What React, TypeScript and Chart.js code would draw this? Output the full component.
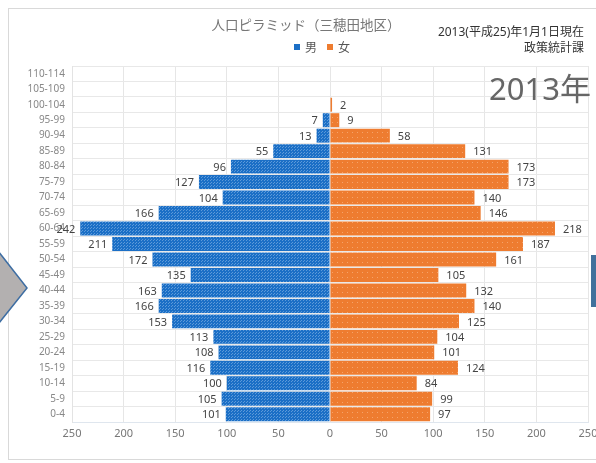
import React, { useEffect, useRef } from "react";
import { Chart, registerables } from "chart.js";

Chart.register(...registerables);

const categories = ["110-114","105-109","100-104","95-99","90-94","85-89","80-84","75-79","70-74","65-69","60-64","55-59","50-54","45-49","40-44","35-39","30-34","25-29","20-24","15-19","10-14","5-9","0-4"];
const maleValues = [0,0,0,7,13,55,96,127,104,166,242,211,172,135,163,166,153,113,108,116,100,105,101];
const femaleValues = [0,0,2,9,58,131,173,173,140,146,218,187,161,105,132,140,125,104,101,124,84,99,97];
const seriesNames = ["男", "女"];
const titleText = "人口ピラミッド（三穂田地区）";
const noteLine1 = "2013(平成25)年1月1日現在";
const noteLine2 = "政策統計課";
const yearText = "2013年";

const FONT = '"Noto Sans", "Noto Sans CJK JP", sans-serif';

function makePattern(base: string, dot: string, size: number, dots: number[][]) {
  const c = document.createElement("canvas");
  c.width = size;
  c.height = size;
  const g = c.getContext("2d")!;
  g.fillStyle = base;
  g.fillRect(0, 0, size, size);
  g.fillStyle = dot;
  dots.forEach(([x, y]) => g.fillRect(x, y, 1, 1));
  const ctx = document.createElement("canvas").getContext("2d")!;
  return ctx.createPattern(c, "repeat") as CanvasPattern;
}

const labelPlugin = {
  id: "barLabels",
  afterDatasetsDraw(chart: any) {
    const ctx = chart.ctx;
    ctx.save();
    ctx.font = `11px ${FONT}`;
    ctx.fillStyle = "#444";
    ctx.textBaseline = "middle";
    chart.data.datasets.forEach((ds: any, di: number) => {
      const meta = chart.getDatasetMeta(di);
      meta.data.forEach((el: any, i: number) => {
        const v = Math.abs(ds.data[i]);
        if (!v) return;
        if (di === 0) {
          ctx.textAlign = "right";
          ctx.fillText(String(v), el.x - 5, el.y + 1);
        } else {
          ctx.textAlign = "left";
          ctx.fillText(String(v), el.x + 8, el.y + 1);
        }
      });
    });
    ctx.restore();
  },
};

export default function App() {
  const ref = useRef<HTMLCanvasElement>(null);
  useEffect(() => {
    const blue = makePattern("#1b6fc6", "#5d9ad9", 3, [[0, 0], [1, 2]]);
    const orange = makePattern("#ee7c30", "#f5a36b", 5, [[2, 2]]);
    const chart = new Chart(ref.current!, {
      type: "bar",
      data: {
        labels: categories,
        datasets: [
          { label: seriesNames[0], data: maleValues.map((v) => -v), backgroundColor: blue, barPercentage: 0.9, categoryPercentage: 1 },
          { label: seriesNames[1], data: femaleValues, backgroundColor: orange, barPercentage: 0.9, categoryPercentage: 1 },
        ],
      },
      options: {
        indexAxis: "y",
        animation: false,
        responsive: false,
        maintainAspectRatio: false,
        layout: { padding: { left: 0, right: 8, top: 66, bottom: 0 } },
        plugins: { legend: { display: false }, tooltip: { enabled: false }, title: { display: false } },
        scales: {
          x: {
            stacked: true,
            min: -250,
            max: 250,
            ticks: {
              stepSize: 50,
              color: "#777",
              font: { size: 11, family: FONT },
              padding: 5,
              maxRotation: 0,
              callback: (v: any) => String(Math.abs(Number(v))),
            },
            grid: { color: "#e6e6e6", drawTicks: false },
            border: { color: "#dfe6ee" },
            afterFit: (s: any) => { s.height = 41; s.paddingLeft = 0; s.paddingRight = 0; },
          },
          y: {
            stacked: true,
            ticks: { color: "#888", font: { size: 10, family: FONT }, padding: 7, autoSkip: false },
            grid: { color: "#e8e8e8", drawTicks: false },
            border: { color: "#e3e3e3" },
            afterFit: (s: any) => { s.width = 72; s.paddingTop = 0; s.paddingBottom = 0; },
          },
        },
      },
      plugins: [labelPlugin],
    } as any);
    return () => chart.destroy();
  }, []);

  return (
    <div style={{ position: "absolute", left: 0, top: 0, width: 596, height: 463, background: "#fff", overflow: "hidden", fontFamily: FONT }}>
      <div style={{ position: "absolute", left: 8, top: 8, width: 600, height: 452, border: "1px solid #d9d9d9", boxSizing: "border-box" }} />
      <canvas ref={ref} width={596} height={463} style={{ position: "absolute", left: 0, top: 0 }} />
      <div style={{ position: "absolute", left: 150, width: 312, top: 14, textAlign: "center", fontSize: 13.5, color: "#777", whiteSpace: "nowrap" }}>{titleText}</div>
      <div style={{ position: "absolute", left: 294, top: 38, fontSize: 12, color: "#555", display: "flex", alignItems: "center", whiteSpace: "nowrap" }}>
        <span style={{ display: "inline-block", width: 6, height: 6, background: "#1b6fc6", marginRight: 5 }} />
        <span>{seriesNames[0]}</span>
        <span style={{ display: "inline-block", width: 6, height: 6, background: "#ee7c30", marginLeft: 10, marginRight: 5 }} />
        <span>{seriesNames[1]}</span>
      </div>
      <div style={{ position: "absolute", right: 12, top: 24, fontSize: 12, color: "#333", textAlign: "right", lineHeight: "16px", whiteSpace: "nowrap" }}>
        <div>{noteLine1}</div>
        <div>{noteLine2}</div>
      </div>
      <div style={{ position: "absolute", right: 5, top: 70, fontSize: 31, color: "#666", lineHeight: "37px", whiteSpace: "nowrap" }}>{yearText}</div>
      <svg width={596} height={463} style={{ position: "absolute", left: 0, top: 0, pointerEvents: "none" }}>
        <polygon points="-5,247 27,288 -5,328" fill="#b3b0b0" stroke="#3e6ea3" strokeWidth={1.5} />
        <rect x={591} y={255} width={6} height={52} fill="#41719c" />
      </svg>
    </div>
  );
}
